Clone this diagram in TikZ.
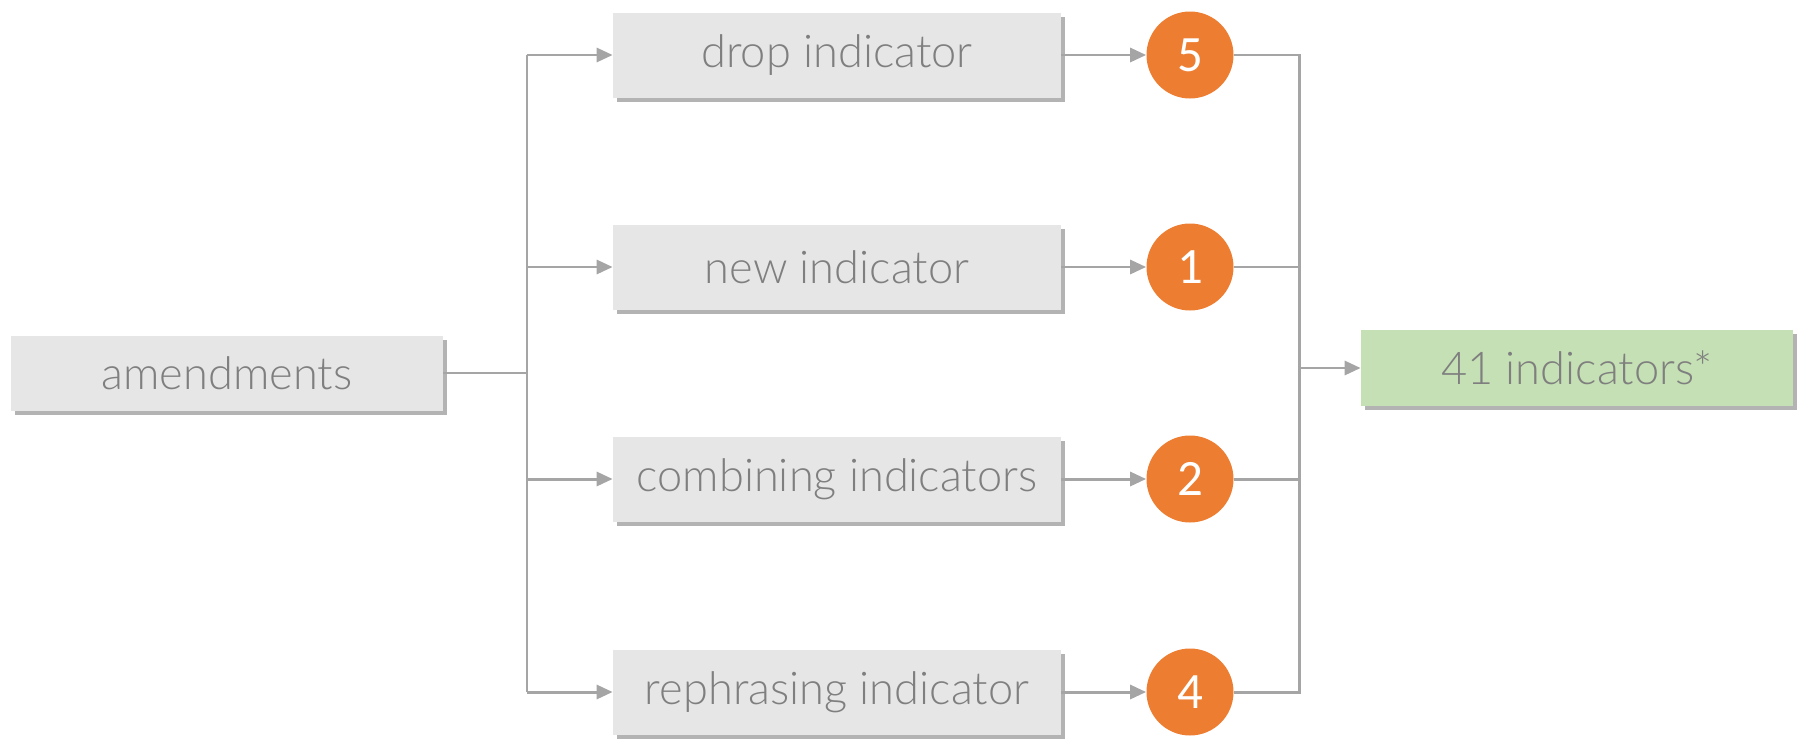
\documentclass[tikz,border=0pt]{standalone}
\usepackage{fontspec}
\setmainfont{Lato}[UprightFont=* Light]
\newfontfamily\numfont{Carlito}
\usetikzlibrary{arrows.meta, positioning, shadows}

\definecolor{boxgray}{HTML}{E7E6E6}
\definecolor{textgray}{HTML}{7F7F7F}
\definecolor{linegray}{HTML}{A5A5A5}
\definecolor{numorange}{HTML}{ED7D31}
\definecolor{resgreen}{HTML}{C5E0B4}

\begin{document}
\begin{tikzpicture}[node distance=2cm,on grid,
        box/.style={rectangle, fill=boxgray, minimum width=8.96cm, minimum height=1.7cm,
            text=textgray, font=\fontsize{25.7}{30}\selectfont,
            drop shadow={shadow xshift=0.08cm, shadow yshift=-0.08cm, fill=black!50, opacity=0.6}},
        num/.style={circle, fill=numorange, minimum size=1.74cm, inner sep=0pt,
            text=white, font=\numfont\fontsize{29}{30}\selectfont},
        line/.style={draw=linegray, line width=1.7pt},
        arrow/.style={line, -{Triangle[length=0.32cm, width=0.28cm]}}]
        \useasboundingbox (-4.54,-7.34) rectangle (31.54,7.46);

        \node[box, minimum width=8.63cm, minimum height=1.5cm]   (amend)                                     {amendments};
        \node[box]                (new)    [above right=2.12cm and 12.2cm of amend]   {new indicator};
        \node[box]                (drop)   [above=4.24cm of new]                      {drop indicator};
        \node[box]                (comb)   [below=4.24cm of new]                      {combining indicators};
        \node[box]                (reph)   [below=4.26cm of comb]                     {rephrasing indicator};

        \node[num]                (n5)     [right=7.06cm of drop]                     {5};
        \node[num]                (n1)     [right=7.06cm of new]                      {1};
        \node[num]                (n2)     [right=7.06cm of comb]                     {2};
        \node[num]                (n4)     [right=7.06cm of reph]                     {4};

        \node[box, fill=resgreen, minimum width=8.64cm, minimum height=1.52cm]
                                  (total)  [above right=0.1cm and 27cm of amend]      {41 indicators*};

        \coordinate[right=6cm of amend]     (split);
        \coordinate[right=2.18cm of n1]     (join);

        % left fork
        \draw[line] (amend.east) -- (split);
        \draw[line] (split |- drop) -- (split |- reph);
        \draw[arrow] (split |- drop) -- (drop.west);
        \draw[arrow] (split |- new)  -- (new.west);
        \draw[arrow] (split |- comb) -- (comb.west);
        \draw[arrow] (split |- reph) -- (reph.west);

        \draw[arrow] (drop.east) -- (n5);
        \draw[arrow] (new.east)  -- (n1);
        \draw[arrow] (comb.east) -- (n2);
        \draw[arrow] (reph.east) -- (n4);

        % right join
        \draw[line] (n5.east) -- (n5 -| join) -- (n4 -| join) -- (n4.east);
        \draw[line] (n1.east) -- (n1 -| join);
        \draw[line] (n2.east) -- (n2 -| join);
        \draw[arrow] (join |- total) -- (total.west);
    \end{tikzpicture}
\end{document}
